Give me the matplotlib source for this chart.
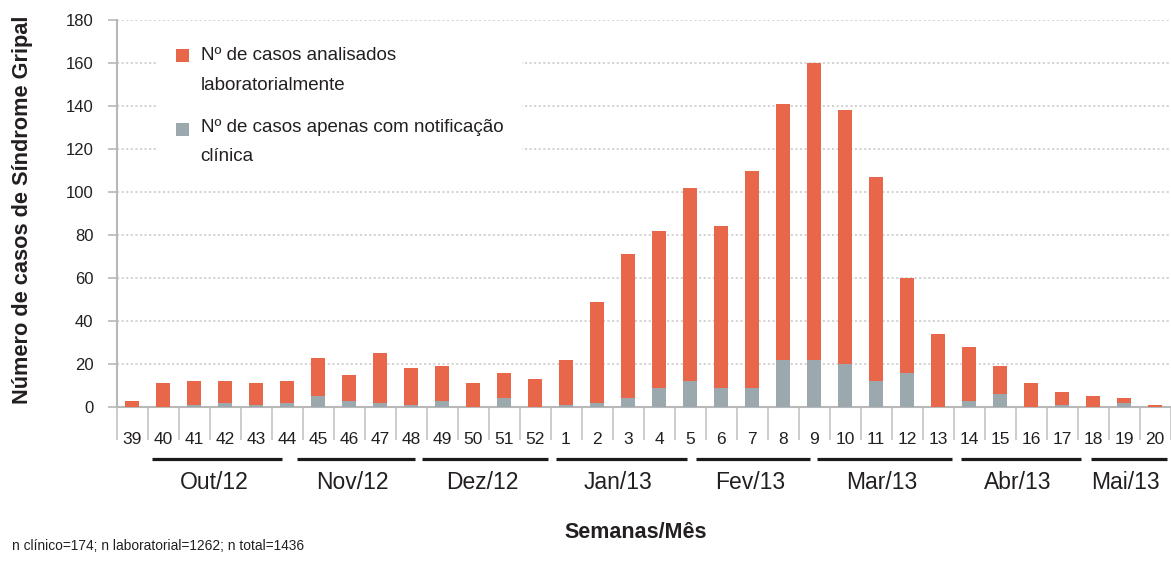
import numpy as np
import matplotlib
matplotlib.use('Agg')
import matplotlib.pyplot as plt
import matplotlib.transforms as mtransforms
from matplotlib.patches import Rectangle

# data
semanas = ['39', '40', '41', '42', '43', '44', '45', '46', '47', '48', '49', '50', '51', '52',
           '1', '2', '3', '4', '5', '6', '7', '8', '9', '10', '11', '12', '13',
           '14', '15', '16', '17', '18', '19', '20']
clinico = [0, 0, 1, 2, 1, 2, 5, 3, 2, 1, 3, 0, 4, 0,
           1, 2, 4, 9, 12, 9, 9, 22, 22, 20, 12, 16, 0,
           3, 6, 0, 1, 0, 2, 0]
laboratorial = [3, 11, 11, 10, 10, 10, 18, 12, 23, 17, 16, 11, 12, 13,
                21, 47, 67, 73, 90, 75, 101, 119, 138, 118, 95, 44, 34,
                25, 13, 11, 6, 5, 2, 1]
meses = ['Out/12', 'Nov/12', 'Dez/12', 'Jan/13', 'Fev/13', 'Mar/13', 'Abr/13', 'Mai/13']
y_ticks = [0, 20, 40, 60, 80, 100, 120, 140, 160, 180]

# month underline spans (in bar index units)
mes_spans = [(0.65, 4.83), (5.31, 9.13), (9.35, 13.43), (13.67, 17.89),
             (18.19, 21.87), (22.1, 26.46), (26.74, 30.61), (30.93, 33.38)]

laranja = '#E8664A'
cinza = '#9BA8AE'
txt = '#231F20'
linha = '#b8b8b8'
normal = ['Liberation Sans', 'DejaVu Sans']

plt.rcParams['font.family'] = normal
plt.rcParams['text.color'] = txt

fig = plt.figure(figsize=(11.71, 5.63), dpi=100)
ax = fig.add_axes([116.5 / 1171, 1 - 407 / 563, 1054 / 1171, 387 / 563])

x = np.arange(len(semanas))
ax.bar(x, clinico, width=0.42, color=cinza, zorder=3)
ax.bar(x, laboratorial, width=0.42, bottom=clinico, color=laranja, zorder=3)

ax.set_xlim(-0.5, len(semanas) - 0.5)
ax.set_ylim(0, 180)
ax.set_yticks(y_ticks)
ax.set_yticklabels([str(v) for v in y_ticks])
ax.tick_params(axis='y', length=6.5, width=1.2, color=linha, pad=10,
               labelsize=12, labelcolor=txt)
ax.grid(axis='y', color='#c8c8c8', linestyle=(0, (1.4, 1.6)), linewidth=1.1)
ax.set_axisbelow(True)

# separators below the axis (major) and week labels (minor)
ax.set_xticks(np.arange(-0.5, len(semanas), 1))
ax.set_xticklabels([])
ax.tick_params(axis='x', which='major', length=23.8, width=1.3, color='#c8c8c8')
ax.set_xticks(x, minor=True)
ax.set_xticklabels(semanas, minor=True)
ax.tick_params(axis='x', which='minor', length=0, pad=18, labelsize=12.5, labelcolor=txt)

for s in ['top', 'right']:
    ax.spines[s].set_visible(False)
for s in ['left', 'bottom']:
    ax.spines[s].set_color(linha)
    ax.spines[s].set_linewidth(1.5)

# months
trans = mtransforms.blended_transform_factory(ax.transData, ax.transAxes)
for nome, (a, b) in zip(meses, mes_spans):
    ax.plot([a, b], [-0.134, -0.134], color='#1a1a1a', lw=2.3, transform=trans,
            clip_on=False, solid_capstyle='butt')
    ax.text((a + b) / 2 - 0.1, -0.196, nome, transform=trans, ha='center', va='center',
            fontsize=16.5)

# legend (white box hides the grid behind it)
ax.add_patch(Rectangle((0.0394, 0.5736), 0.3453, 0.4134, transform=ax.transAxes,
                       facecolor='white', edgecolor='none', zorder=1))
ax.add_patch(Rectangle((0.0565, 0.8915), 0.01233, 0.0336, transform=ax.transAxes,
                       facecolor=laranja, edgecolor='none', zorder=4))
ax.add_patch(Rectangle((0.0565, 0.7003), 0.01233, 0.0336, transform=ax.transAxes,
                       facecolor=cinza, edgecolor='none', zorder=4))
ax.text(0.0797, 0.8695, 'Nº de casos analisados\nlaboratorialmente', transform=ax.transAxes,
        va='center', ha='left', fontsize=13.5, linespacing=1.95, zorder=4)
ax.text(0.0797, 0.6848, 'Nº de casos apenas com notificação\nclínica', transform=ax.transAxes,
        va='center', ha='left', fontsize=13.5, linespacing=1.85, zorder=4)

fig.text(0.0192, 0.627, 'Número de casos de Síndrome Gripal', rotation=90,
         ha='center', va='center', fontsize=15.7, fontweight='bold')
fig.text(0.543, 0.055, 'Semanas/Mês', ha='center', va='center',
         fontsize=15.5, fontweight='bold')
fig.text(0.0102, 0.03, 'n clínico=174; n laboratorial=1262; n total=1436',
         ha='left', va='center', fontsize=9.95)

fig.savefig('out.png', dpi=100)
